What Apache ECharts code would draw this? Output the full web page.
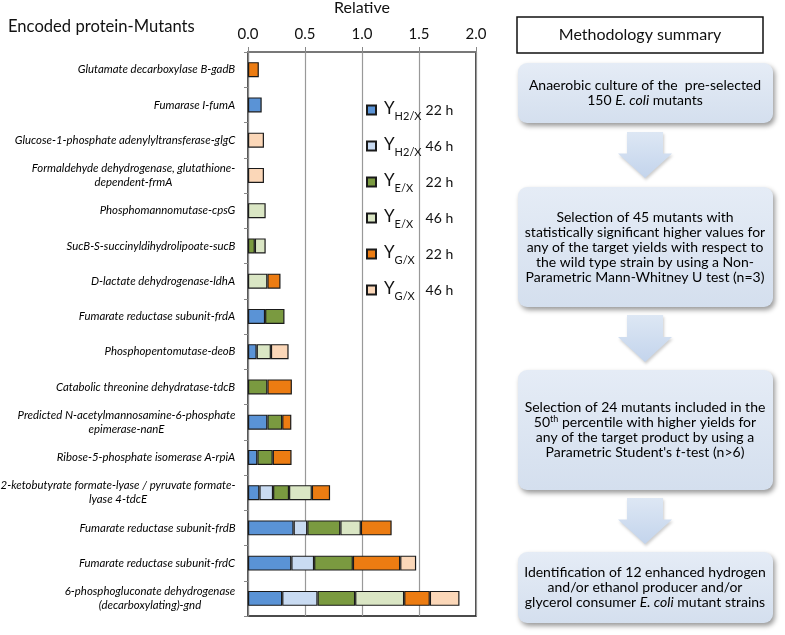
<!DOCTYPE html>
<html><head><meta charset="utf-8">
<script src="https://cdn.jsdelivr.net/npm/echarts@6/dist/echarts.min.js"></script>
<style>html,body{margin:0;padding:0;background:#fff}#c{width:785px;height:635px}</style>
</head><body><div id="c"></div>
<script>
const categories = [
  'Glutamate decarboxylase B-gadB',
  'Fumarase I-fumA',
  'Glucose-1-phosphate adenylyltransferase-glgC',
  'Formaldehyde dehydrogenase, glutathione-\ndependent-frmA',
  'Phosphomannomutase-cpsG',
  'SucB-S-succinyldihydrolipoate-sucB',
  'D-lactate dehydrogenase-ldhA',
  'Fumarate reductase subunit-frdA',
  'Phosphopentomutase-deoB',
  'Catabolic threonine dehydratase-tdcB',
  'Predicted N-acetylmannosamine-6-phosphate\nepimerase-nanE',
  'Ribose-5-phosphate isomerase A-rpiA',
  '2-ketobutyrate formate-lyase / pyruvate formate-\nlyase 4-tdcE',
  'Fumarate reductase subunit-frdB',
  'Fumarate reductase subunit-frdC',
  '6-phosphogluconate dehydrogenase\n(decarboxylating)-gnd'
];
const yH2_22 = [null, 0.12, null, null, null, null, null, 0.15, 0.076, null, 0.17, 0.082, 0.10, 0.40, 0.38, 0.30];
const yH2_46 = [null, null, null, null, null, null, null, null, null, null, null, null, 0.12, 0.12, 0.20, 0.31];
const yE_22  = [null, null, null, null, null, 0.06, null, 0.17, null, 0.17, 0.13, 0.135, 0.14, 0.29, 0.34, 0.33];
const yE_46  = [null, null, null, null, 0.155, 0.095, 0.17, null, 0.125, null, null, null, 0.20, 0.18, null, 0.43];
const yG_22  = [0.095, null, null, null, null, null, 0.115, null, null, 0.215, 0.08, 0.165, 0.16, 0.27, 0.415, 0.225];
const yG_46  = [null, null, 0.14, 0.14, null, null, null, null, 0.155, null, null, null, null, null, 0.14, 0.26];
const xTicks = [0, 0.5, 1.0, 1.5, 2.0];

const seriesDefs = [
  {name: 'H2/X|22 h', sub: 'H2/X', t: '22 h', data: yH2_22, color: '#5a93d6'},
  {name: 'H2/X|46 h', sub: 'H2/X', t: '46 h', data: yH2_46, color: '#c9dbf2'},
  {name: 'E/X|22 h',  sub: 'E/X',  t: '22 h', data: yE_22,  color: '#7a9a40'},
  {name: 'E/X|46 h',  sub: 'E/X',  t: '46 h', data: yE_46,  color: '#dae6c4'},
  {name: 'G/X|22 h',  sub: 'G/X',  t: '22 h', data: yG_22,  color: '#ec7c12'},
  {name: 'G/X|46 h',  sub: 'G/X',  t: '46 h', data: yG_46,  color: '#fbd7b8'}
];

const FONT = 'Lato, "Open Sans", sans-serif';
const labelFontSize = 11.4;
// measure line widths so multi-line labels are centred within their block
const ctx = document.createElement('canvas').getContext('2d');
ctx.font = 'italic ' + labelFontSize + 'px Lato';
const labelRich = {};
categories.forEach((c, i) => {
  const w = Math.max.apply(null, c.split('\n').map(s => ctx.measureText(s).width));
  labelRich['L' + i] = {width: Math.ceil(w) + 1, align: 'center', fontStyle: 'italic',
    fontSize: labelFontSize, fontFamily: FONT, color: '#000', lineHeight: 14};
});

const chart = echarts.init(document.getElementById('c'));

const boxFill = new echarts.graphic.LinearGradient(0, 0, 0, 1, [
  {offset: 0, color: '#e5ecf6'}, {offset: 1, color: '#d4dfee'}]);
const arrowFill = new echarts.graphic.LinearGradient(0, 0, 0, 1, [
  {offset: 0, color: '#dde7f4'}, {offset: 1, color: '#c3d4ec'}]);
const flowText = {fontSize: 14, fontFamily: FONT, color: '#111', lineHeight: 15};
const flowRich = {
  i: {fontStyle: 'italic', fontSize: 14, fontFamily: FONT, color: '#111', lineHeight: 15},
  sup: {fontSize: 9, fontFamily: FONT, color: '#111', lineHeight: 9, verticalAlign: 'top'}
};
function box(y0, y1, text) {
  return [
    {type: 'rect', shape: {x: 518, y: y0, width: 255, height: y1 - y0, r: 9},
     style: {fill: boxFill, shadowBlur: 5, shadowOffsetX: 2, shadowOffsetY: 3, shadowColor: 'rgba(0,0,0,0.4)'}},
    {type: 'text', x: 645, y: (y0 + y1) / 2, style: Object.assign({text: text, align: 'center', verticalAlign: 'middle', rich: flowRich}, flowText)}
  ];
}
function arrow(y0, y1) {
  const cx = 645, sw = 18, hw = 27, hy = y0 + (y1 - y0) * 0.47;
  return {type: 'polygon', shape: {points: [[cx - sw, y0], [cx + sw, y0], [cx + sw, hy], [cx + hw, hy], [cx, y1], [cx - hw, hy], [cx - sw, hy]]},
    style: {fill: arrowFill, shadowBlur: 3, shadowOffsetX: 1, shadowOffsetY: 2, shadowColor: 'rgba(0,0,0,0.2)'}};
}

const graphics = [
  {type: 'rect', shape: {x: 517, y: 17, width: 246, height: 36}, style: {fill: '#fff', stroke: '#111', lineWidth: 1.5}},
  {type: 'text', x: 640, y: 35, style: {text: 'Methodology summary', align: 'center', verticalAlign: 'middle', fontSize: 16, fontFamily: FONT, fill: '#111'}},
  ...box(63, 123, 'Anaerobic culture of the  pre-selected\n150 {i|E. coli} mutants'),
  arrow(132, 178),
  ...box(187, 307, 'Selection of 45 mutants with\nstatistically significant higher values for\nany of the target yields with respect to\nthe wild type strain by using a Non-\nParametric Mann-Whitney U test (n=3)'),
  arrow(315, 362),
  ...box(370, 490, 'Selection of 24 mutants included in the\n50{sup|th} percentile with higher yields for\nany of the target product by using a\nParametric Student\'s {i|t}-test (n>6)'),
  arrow(498, 544),
  ...box(552, 623, 'Identification of 12 enhanced hydrogen\nand/or ethanol producer and/or\nglycerol consumer {i|E. coli} mutant strains')
];

chart.setOption({
  animation: false,
  backgroundColor: '#fff',
  title: {text: 'Encoded protein-Mutants', left: 8, top: 18, padding: 0,
    textStyle: {fontSize: 16.6, fontWeight: 'normal', fontFamily: FONT, color: '#111'}},
  grid: {left: 248, right: 309, top: 52, bottom: 19, show: true, borderColor: '#111', borderWidth: 1.5,
    backgroundColor: 'transparent', outerBoundsMode: 'none', containLabel: false},
  legend: {
    orient: 'vertical', left: 366, top: 100, itemWidth: 9, itemHeight: 9, itemGap: 14, icon: 'rect',
    padding: 0,
    data: seriesDefs.map(s => s.name),
    formatter: function (name) {
      const s = seriesDefs.find(d => d.name === name);
      return '{y|Y}{s|' + s.sub + '}{t|' + s.t + '}';
    },
    textStyle: {
      rich: {
        y: {fontSize: 17, fontFamily: FONT, color: '#111', lineHeight: 20, verticalAlign: 'top', padding: [0, 0, 0, 3]},
        s: {fontSize: 11, fontFamily: FONT, color: '#111', lineHeight: 12, verticalAlign: 'top', padding: [11, 0, 0, 0], width: 31},
        t: {fontSize: 14, fontFamily: FONT, color: '#111', lineHeight: 20, verticalAlign: 'top', padding: [3, 0, 0, 0]}
      }
    }
  },
  xAxis: {
    type: 'value', position: 'top', min: 0, max: 2, interval: 0.5,
    name: 'Relative', nameLocation: 'middle', nameGap: 36,
    nameTextStyle: {fontSize: 16, fontFamily: FONT, color: '#111'},
    axisLine: {show: true, lineStyle: {color: '#888', width: 1.5}},
    axisTick: {show: true, length: 5, lineStyle: {color: '#888'}},
    axisLabel: {fontSize: 15, fontFamily: FONT, color: '#111', margin: 10,
      formatter: v => v.toFixed(1), customValues: xTicks},
    splitLine: {show: true, lineStyle: {color: '#999', width: 1.2}}
  },
  yAxis: {
    type: 'category', inverse: true, data: categories,
    axisLine: {show: true, lineStyle: {color: '#888', width: 1.2}},
    axisTick: {show: true, length: 4, lineStyle: {color: '#888'}},
    axisLabel: {
      margin: 12, align: 'right', interval: 0,
      formatter: function (v, i) {
        return v.split('\n').map(s => '{L' + i + '|' + s + '}').join('\n');
      },
      rich: labelRich
    }
  },
  series: seriesDefs.map(s => ({
    name: s.name, type: 'bar', stack: 'total', data: s.data, barWidth: 15,
    itemStyle: {color: s.color, borderColor: '#1a1a1a', borderWidth: 1.2}
  })),
  graphic: graphics
});
</script>
</body></html>
